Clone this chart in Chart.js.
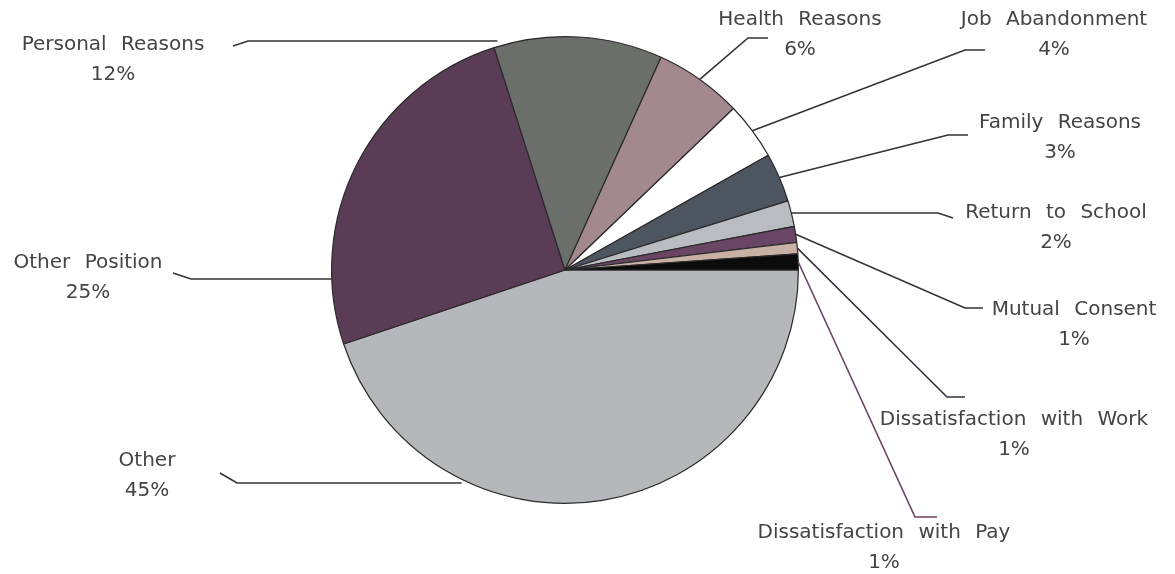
<!DOCTYPE html>
<html>
<head>
<meta charset="utf-8">
<script src="https://cdn.jsdelivr.net/npm/chart.js@4/dist/chart.umd.min.js"></script>
<style>
  html, body { margin: 0; padding: 0; background: #fff; }
  #wrap { width: 1175px; height: 574px; position: relative; }
</style>
</head>
<body>
<div id="wrap"><canvas id="pieChart" width="1175" height="574"></canvas></div>
<script>
// slices, clockwise from 3 o'clock
const categories = [
    'Other', 'Other Position', 'Personal Reasons', 'Health Reasons', 'Job Abandonment',
    'Family Reasons', 'Return to School', 'Mutual Consent', 'Dissatisfaction with Work',
    'Dissatisfaction with Pay'
];
const shares = [45, 25.3, 11.7, 6.1, 4.0, 3.4, 1.8, 1.1, 0.8, 1.1];
const sliceColors = [
    '#b5b7bb', '#5b3c57', '#6b6f6a', '#a3898e', '#ffffff',
    '#4c5560', '#b9bcc0', '#6a4566', '#c8b0a5', '#0b0b0b'
];

// label placement: text centre, first line y, leader points, where on the slice the leader ends
// flat: leader keeps the y of its last point (horizontal run to the pie)
const labelLayout = [
    { x: 147, y: 461, path: [[220, 473], [237, 483]], at: 0.72, flat: true, color: '#333' },
    { x: 88,  y: 263, path: [[173, 273], [191, 279]], at: 0.17, flat: true, color: '#333' },
    { x: 113, y: 45,  path: [[233, 46], [248, 41]],  at: 0.02, flat: true, color: '#333' },
    { x: 800, y: 20,  path: [[768, 38], [748, 38]],  at: 0.5, color: '#333' },
    { x: 1054, y: 20, path: [[985, 50], [965, 50]],  at: 0.5, color: '#333' },
    { x: 1060, y: 123, path: [[968, 135], [948, 135]], at: 0.5, color: '#333' },
    { x: 1056, y: 213, path: [[953, 218], [938, 213]], at: 0.5, flat: true, color: '#333' },
    { x: 1074, y: 310, path: [[983, 308], [965, 308]], at: 0.5, color: '#333' },
    { x: 1014, y: 420, path: [[965, 397], [947, 397]], at: 0.5, color: '#3a3040' },
    { x: 884,  y: 533, path: [[937, 517], [915, 517]], at: 0.5, color: '#6a4262' }
];

const total = shares.reduce((a, b) => a + b, 0);

const leaderLabels = {
    id: 'leaderLabels',
    afterDraw(chart) {
        const ctx = chart.ctx;
        const meta = chart.getDatasetMeta(0);
        ctx.save();
        meta.data.forEach((arc, i) => {
            const lay = labelLayout[i];
            const p = arc.getProps(['x', 'y', 'startAngle', 'endAngle', 'outerRadius'], true);
            const a = p.startAngle + lay.at * (p.endAngle - p.startAngle);
            const last = lay.path[lay.path.length - 1];
            const ex = p.x + p.outerRadius * Math.cos(a);
            const ey = lay.flat ? last[1] : p.y + p.outerRadius * Math.sin(a);

            ctx.beginPath();
            ctx.strokeStyle = lay.color;
            ctx.lineWidth = 1.6;
            ctx.moveTo(lay.path[0][0], lay.path[0][1]);
            for (let k = 1; k < lay.path.length; k++) ctx.lineTo(lay.path[k][0], lay.path[k][1]);
            ctx.lineTo(ex, ey);
            ctx.stroke();

            ctx.fillStyle = '#444';
            ctx.font = '20px "DejaVu Sans"';
            if ('wordSpacing' in ctx) ctx.wordSpacing = '8px';
            ctx.textAlign = 'center';
            ctx.textBaseline = 'middle';
            ctx.fillText(categories[i], lay.x, lay.y);
            ctx.fillText(Math.round(shares[i] / total * 100) + '%', lay.x, lay.y + 30);
        });
        ctx.restore();
    }
};

new Chart(document.getElementById('pieChart').getContext('2d'), {
    type: 'pie',
    data: {
        labels: categories,
        datasets: [{
            data: shares,
            backgroundColor: sliceColors,
            borderColor: '#2a2a2a',
            borderWidth: 1.2
        }]
    },
    options: {
        responsive: false,
        animation: false,
        rotation: 90,
        layout: { padding: { left: 331, right: 376, top: 36, bottom: 70 } },
        plugins: {
            legend: { display: false },
            tooltip: { enabled: false }
        }
    },
    plugins: [leaderLabels]
});
</script>
</body>
</html>
